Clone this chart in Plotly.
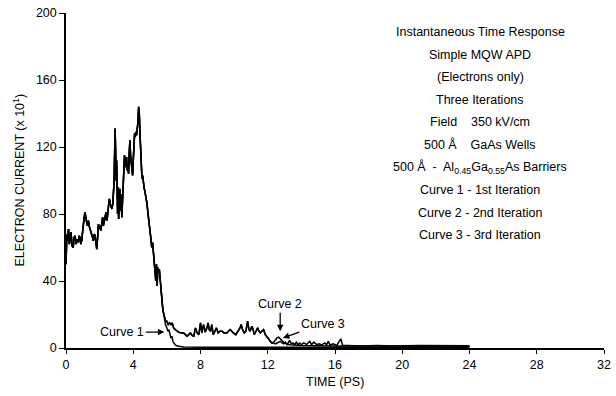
import plotly.graph_objects as go

# ---------------- data ----------------
# shared rising/peak part (all three iterations coincide)
t_shared = [0.00, 0.05, 0.10, 0.15, 0.20, 0.25, 0.30, 0.36, 0.43, 0.48, 0.54, 0.60, 0.66, 0.73, 0.78,
            0.83, 0.88, 0.93, 0.98, 1.03, 1.08, 1.13, 1.18, 1.23, 1.28, 1.33, 1.40, 1.47, 1.53, 1.58,
            1.63, 1.68, 1.73, 1.78, 1.83, 1.88, 1.93, 1.98, 2.02, 2.07, 2.12, 2.18, 2.22, 2.26, 2.32,
            2.38, 2.42, 2.46, 2.52, 2.58, 2.63, 2.68, 2.73, 2.78, 2.83, 2.86, 2.89, 2.92, 2.95, 2.98,
            3.01, 3.04, 3.07, 3.10, 3.13, 3.17, 3.20, 3.24, 3.28, 3.32, 3.36, 3.40, 3.44, 3.48, 3.52,
            3.56, 3.60, 3.64, 3.68, 3.72, 3.76, 3.80, 3.84, 3.88, 3.92, 3.96, 4.00, 4.04, 4.08, 4.12,
            4.16, 4.20, 4.24, 4.28, 4.32, 4.36, 4.40, 4.44, 4.48, 4.52, 4.56, 4.60, 4.64, 4.70, 4.76,
            4.82, 4.88, 4.93, 4.98, 5.04, 5.10, 5.15, 5.20, 5.25, 5.30, 5.34, 5.38, 5.42, 5.46, 5.50,
            5.55, 5.60, 5.65, 5.70, 5.75, 5.80, 5.85]
y_shared = [50, 68, 64, 71, 62, 67, 69, 61, 60, 66, 67, 62, 65, 63, 67,
            66, 62, 64, 70, 75, 78, 81, 76, 75, 73, 76, 72, 70, 68, 66,
            64, 68, 67, 63, 59, 66, 74, 71, 73, 70, 76, 78, 73, 75, 79,
            81, 76, 78, 84, 89, 86, 84, 83, 86, 92, 99, 115, 131, 118, 100,
            112, 90, 80, 96, 77, 88, 95, 82, 92, 78, 90, 100, 106, 115, 112,
            108, 114, 106, 110, 104, 116, 124, 115, 110, 106, 103, 112, 122, 128, 126,
            129, 127, 131, 135, 144, 140, 128, 118, 108, 101, 103, 98, 96, 93, 90,
            86, 80, 74, 70, 66, 60, 63, 57, 52, 46, 40, 50, 37, 48, 45,
            47, 40, 33, 28, 24, 21, 18]

# curve 1 (1st iteration) tail
t_c1_tail = [5.92, 6.00, 6.06, 6.12, 6.18, 6.24, 6.30, 6.36, 6.45, 6.55, 6.70, 7.0, 8.0, 12.0, 16.0, 24.0]
y_c1_tail = [14, 12, 10, 11, 8, 6, 7, 4, 2.5, 1.5, 1.0, 0.6, 0.5, 0.5, 0.5, 0.5]

# curves 2 and 3 common middle part
t_mid = [5.92, 6.00, 6.08, 6.16, 6.24, 6.32, 6.40, 6.50, 6.60, 6.70, 6.85, 7.00, 7.10, 7.20, 7.30,
         7.40, 7.50, 7.60, 7.70, 7.80, 7.90, 8.00, 8.08, 8.18, 8.28, 8.38, 8.45, 8.52, 8.60, 8.67,
         8.76, 8.85, 8.95, 9.05, 9.15, 9.27, 9.40, 9.56, 9.66, 9.76, 9.86, 9.95, 10.10, 10.25, 10.35,
         10.42, 10.50, 10.60, 10.70, 10.80, 10.88, 10.95, 11.05, 11.10, 11.20, 11.30, 11.40, 11.48,
         11.55, 11.65, 11.75, 11.85, 11.95, 12.05, 12.15, 12.25]
y_mid = [16, 16, 14, 15, 14, 15, 12, 11, 10, 9.5, 9, 9, 8, 7, 8,
         9, 7.5, 7, 12, 9, 8, 15, 9, 14, 9.5, 12, 15, 11, 10, 14,
         8, 10, 12, 9, 10, 10, 9, 9, 10, 11, 10, 9, 8, 10, 12,
         14, 11, 9, 10, 16, 11, 10, 13, 12, 8, 10, 12, 10,
         9, 10, 11, 8, 7, 5.5, 4, 3]

# curve 2 (2nd iteration) tail
t_c2_tail = [12.35, 12.45, 12.55, 12.65, 12.75, 12.85, 13.0, 13.3, 14.0, 16.0, 20.0, 24.0]
y_c2_tail = [3.5, 5, 6, 6.5, 5.5, 4, 3, 2, 1.5, 1.2, 1.0, 1.0]

# curve 3 (3rd iteration) tail
t_c3_tail = [12.35, 12.45, 12.55, 12.65, 12.75, 12.85, 12.95, 13.05, 13.15, 13.30, 13.40, 13.50, 13.60,
             13.70, 13.80, 13.90, 14.00, 14.15, 14.30, 14.50, 14.60, 14.75, 14.90, 15.05, 15.20, 15.40,
             15.50, 15.60, 15.70, 15.90, 16.10, 16.35, 16.45, 16.80, 17.50, 18.50, 19.50, 21.0, 22.0,
             23.0, 24.0]
y_c3_tail = [3, 2.5, 3, 3.5, 4, 3, 2.5, 3.5, 2, 4.5, 2.5, 3, 2,
             3.5, 2, 3, 2, 3, 2, 4, 2, 3.5, 2, 2.5, 1.8, 3,
             1.8, 4, 1.8, 2.5, 1.5, 5.5, 1.5, 1.5, 1.2, 1.5, 1.2, 1.5, 1.4,
             1.5, 1.3]

x_ticks = [0, 4, 8, 12, 16, 20, 24, 28, 32]
y_ticks = [0, 40, 80, 120, 160, 200]

info_lines = [
    "Instantaneous Time Response",
    "Simple MQW APD",
    "(Electrons only)",
    "Three Iterations",
    "Field    350 kV/cm",
    "500 Å    GaAs Wells",
    "500 Å  -  Al<sub>0.45</sub>Ga<sub>0.55</sub>As Barriers",
    "Curve 1 - 1st Iteration",
    "Curve 2 - 2nd Iteration",
    "Curve 3 - 3rd Iteration",
]

# ---------------- figure ----------------
FONT = "Liberation Sans, Arial, Helvetica, sans-serif"
fig = go.Figure()

curves = [
    (t_shared + t_mid + t_c3_tail, y_shared + y_mid + y_c3_tail),
    (t_shared + t_mid + t_c2_tail, y_shared + y_mid + y_c2_tail),
    (t_shared + t_c1_tail, y_shared + y_c1_tail),
]
for tx, ty in curves:
    fig.add_trace(go.Scatter(x=tx, y=ty, mode="lines",
                             line=dict(color="black", width=1.5),
                             showlegend=False, hoverinfo="skip"))

fig.update_layout(
    width=616, height=396,
    margin=dict(l=66, r=12, t=13, b=48, autoexpand=False),
    paper_bgcolor="white", plot_bgcolor="white",
    font=dict(family=FONT, size=12, color="black"),
    showlegend=False,
)
fig.update_xaxes(
    range=[0, 32], tickvals=x_ticks, ticktext=[str(v) for v in x_ticks],
    showline=True, linecolor="black", linewidth=1.5,
    ticks="outside", ticklen=4, tickcolor="black", tickwidth=1,
    showgrid=False, zeroline=False, automargin=False,
    tickfont=dict(size=12.5),
)
fig.update_yaxes(
    range=[0, 200], tickvals=y_ticks, ticktext=[str(v) for v in y_ticks],
    showline=True, linecolor="black", linewidth=1.5,
    ticks="outside", ticklen=5, tickcolor="black", tickwidth=1,
    showgrid=False, zeroline=False, automargin=False,
    tickfont=dict(size=12.5),
)

# axis titles
fig.add_annotation(x=0.5, y=-0.102, xref="paper", yref="paper", text="TIME (PS)",
                   showarrow=False, xanchor="center", yanchor="middle",
                   font=dict(size=12.5, family=FONT, color="black"))
fig.add_annotation(x=-0.089, y=0.5, xref="paper", yref="paper",
                   text="ELECTRON CURRENT (x 10<sup>1</sup>)", textangle=-90,
                   showarrow=False, xanchor="center", yanchor="middle",
                   font=dict(size=12.5, family=FONT, color="black"))

# info text block
for i, line in enumerate(info_lines):
    fig.add_annotation(x=24.64, y=188.7 - i * 13.5, xref="x", yref="y",
                       text=line, showarrow=False, xanchor="center", yanchor="middle",
                       font=dict(size=12.5, family=FONT, color="black"))

# curve labels with arrows
fig.add_annotation(x=5.85, y=9.5, xref="x", yref="y", text="Curve 1",
                   showarrow=True, ax=-42, ay=0, arrowhead=2, arrowsize=1, arrowwidth=1.3,
                   arrowcolor="black", font=dict(size=12.5, family=FONT))
fig.add_annotation(x=12.74, y=10, xref="x", yref="y", text="Curve 2",
                   showarrow=True, ax=0, ay=-27, arrowhead=2, arrowsize=1, arrowwidth=1.3,
                   arrowcolor="black", font=dict(size=12.5, family=FONT))
fig.add_annotation(x=12.9, y=6, xref="x", yref="y", text="Curve 3",
                   showarrow=True, ax=40, ay=-14, arrowhead=2, arrowsize=1, arrowwidth=1.3,
                   arrowcolor="black", font=dict(size=12.5, family=FONT))

fig.write_html("out.html")
